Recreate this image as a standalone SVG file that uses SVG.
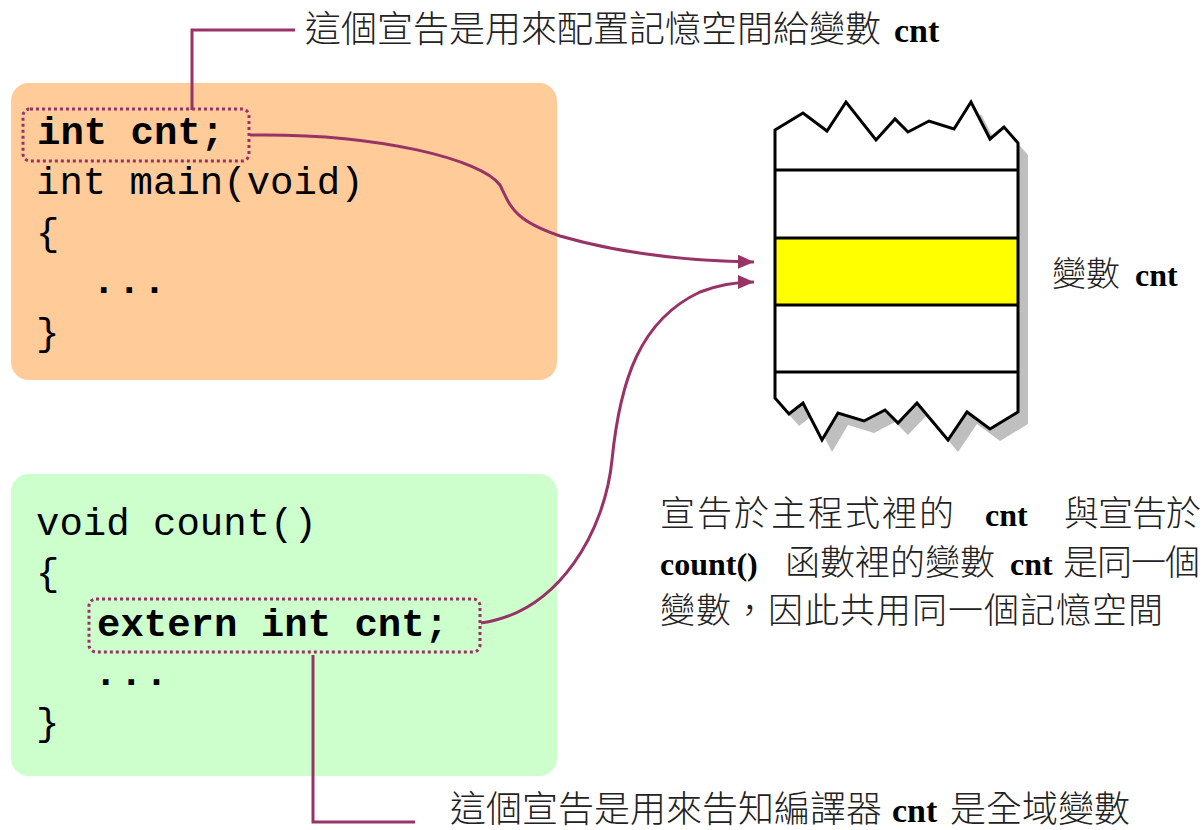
<svg xmlns="http://www.w3.org/2000/svg" width="1203" height="830" viewBox="0 0 1203 830">
<style>
.code{font-family:"Liberation Mono","Courier New",monospace;font-size:39px;fill:#000}
.b{font-weight:bold}
.cjk{font-family:"Noto Sans CJK TC","Noto Sans CJK SC",sans-serif;font-weight:300;fill:#222}
.ser{font-family:"Liberation Serif","Times New Roman",serif;font-weight:bold;fill:#000}
.dot{fill:none;stroke:#993366;stroke-width:3;stroke-dasharray:3 3}
.conn{fill:none;stroke:#993366;stroke-width:3}
.mem{fill:none;stroke:#000;stroke-width:3;stroke-linejoin:miter}
</style>
<defs>
<marker id="arr" markerUnits="userSpaceOnUse" markerWidth="18" markerHeight="16" refX="16" refY="7" orient="auto">
<path d="M0,0 L16,7 L0,14 z" fill="#993366"/>
</marker>
</defs>

<g id="main-block">
<rect x="11" y="83" width="546" height="297" rx="18" fill="#FFCC99"/>
<rect class="dot" x="23" y="109" width="226" height="52" rx="7"/>
<text class="code b" x="37" y="144">int cnt;</text>
<text class="code" x="36" y="194">int main(void)</text>
<text class="code" x="36" y="245">{</text>
<text class="code b" x="92" y="293" letter-spacing="2">...</text>
<text class="code" x="36" y="345">}</text>
</g>

<g id="count-block">
<rect x="11" y="474" width="546" height="302" rx="18" fill="#CCFFCC"/>
<rect class="dot" x="89" y="599" width="391" height="53" rx="7"/>
<text class="code" x="36" y="535">void count()</text>
<text class="code" x="36" y="585">{</text>
<text class="code b" x="97" y="636">extern int cnt;</text>
<text class="code b" x="94" y="685" letter-spacing="2">...</text>
<text class="code" x="36" y="735">}</text>
</g>

<g id="memory">
<polygon fill="#BFBFBF" transform="translate(10,12)" points="775,130 803,113 827,131 846,102 876,140 895,119 908,132 929,121 954,129 971,102 990,139 1004,127 1018,143 1018,412 990,429 967,412 948,440 917,403 898,423 885,410 864,421 838,413 822,440 803,403 789,414 775,398"/>
<polygon fill="#FFFFFF" points="775,130 803,113 827,131 846,102 876,140 895,119 908,132 929,121 954,129 971,102 990,139 1004,127 1018,143 1018,412 990,429 967,412 948,440 917,403 898,423 885,410 864,421 838,413 822,440 803,403 789,414 775,398"/>
<rect x="775" y="238" width="243" height="67" fill="#FFFF00"/>
<polygon class="mem" points="775,130 803,113 827,131 846,102 876,140 895,119 908,132 929,121 954,129 971,102 990,139 1004,127 1018,143 1018,412 990,429 967,412 948,440 917,403 898,423 885,410 864,421 838,413 822,440 803,403 789,414 775,398"/>
<line class="mem" x1="775" y1="170" x2="1018" y2="170"/>
<line class="mem" x1="775" y1="238" x2="1018" y2="238"/>
<line class="mem" x1="775" y1="305" x2="1018" y2="305"/>
<line class="mem" x1="775" y1="372" x2="1018" y2="372"/>
</g>

<g id="memory-label">
<text x="1052" y="286"><tspan class="cjk" font-size="34">變數</tspan><tspan class="ser" font-size="32" x="1135">cnt</tspan></text>
</g>

<g id="top-label">
<text x="305" y="42"><tspan class="cjk" font-size="36">這個宣告是用來配置記憶空間給變數</tspan><tspan class="ser" font-size="34" x="894">cnt</tspan></text>
</g>

<g id="bottom-label">
<text x="450" y="822"><tspan class="cjk" font-size="36">這個宣告是用來告知編譯器</tspan><tspan class="ser" font-size="34" x="892">cnt</tspan><tspan class="cjk" font-size="36" x="950">是全域變數</tspan></text>
</g>

<g id="note">
<text y="526"><tspan class="cjk" font-size="35" x="660" letter-spacing="2">宣告於主程式裡的</tspan><tspan class="ser" font-size="32" x="985">cnt</tspan><tspan class="cjk" font-size="35" x="1064" letter-spacing="-1">與宣告於</tspan></text>
<text y="575"><tspan class="ser" font-size="32" x="660">count()</tspan><tspan class="cjk" font-size="35" x="785">函數裡的變數</tspan><tspan class="ser" font-size="32" x="1010">cnt</tspan><tspan class="cjk" font-size="35" x="1063" letter-spacing="-1">是同一個</tspan></text>
<text y="623"><tspan class="cjk" font-size="35" x="660" letter-spacing="1">變數，因此共用同一個記憶空間</tspan></text>
</g>

<g id="connectors">
<polyline class="conn" points="192,110 192,30 295,30"/>
<polyline class="conn" points="313,655 313,822 415,822"/>
<path class="conn" marker-end="url(#arr)" d="M250,135 C380,133 482,160 500,185 C510,205 512,220 560,236 C625,255 690,261 754,262"/>
<path class="conn" marker-end="url(#arr)" d="M481,623 C560,612 605,530 612,460 C620,380 640,320 700,292 C718,285 735,282 754,282"/>
</g>
</svg>
